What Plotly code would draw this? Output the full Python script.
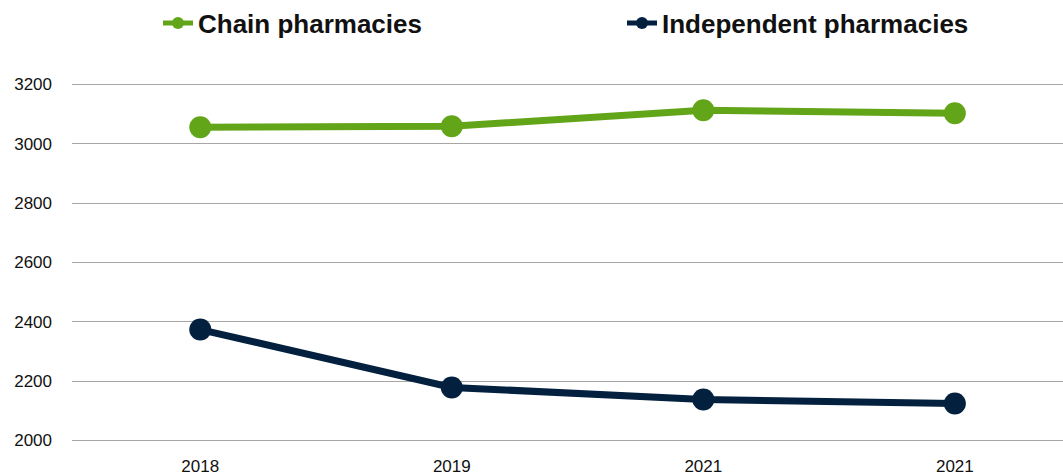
import plotly.graph_objects as go

years = ["2018", "2019", "2021", "2021"]
chain = [3056, 3059, 3113, 3103]
independent = [2374, 2179, 2138, 2125]
y_ticks = [2000, 2200, 2400, 2600, 2800, 3000, 3200]

xpos = list(range(len(years)))

GREEN = "#63a519"
NAVY = "#03203f"
FONT = "Liberation Sans, Arial, sans-serif"

fig = go.Figure()
fig.add_trace(go.Scatter(
    x=xpos, y=chain, name="Chain pharmacies", mode="lines+markers",
    line=dict(color=GREEN, width=7), marker=dict(size=22, color=GREEN),
    legend="legend",
))
fig.add_trace(go.Scatter(
    x=xpos, y=independent, name="Independent pharmacies", mode="lines+markers",
    line=dict(color=NAVY, width=7), marker=dict(size=22, color=NAVY),
    legend="legend2",
))

legend_common = dict(
    orientation="h", xref="container", yref="container",
    xanchor="left", yanchor="middle",
    font=dict(size=26, family=FONT, weight="bold", color="#111111"),
    bgcolor="rgba(0,0,0,0)", itemsizing="constant",
)

fig.update_layout(
    width=1063, height=475,
    margin=dict(l=72, r=0, t=83, b=33),
    paper_bgcolor="white", plot_bgcolor="white",
    font=dict(family=FONT, color="#111111"),
    showlegend=True,
    legend=dict(x=158 / 1063, y=1 - 23 / 475, **legend_common),
    legend2=dict(x=622 / 1063, y=1 - 23 / 475, **legend_common),
    xaxis=dict(
        range=[-0.51, 3.43],
        tickvals=xpos, ticktext=years,
        showgrid=False, zeroline=False, showline=False,
        tickfont=dict(size=17, color="#111111"), ticks="", ticklabelstandoff=12,
    ),
    yaxis=dict(
        range=[1995, 3205], tickvals=y_ticks,
        showgrid=True, gridcolor="#a6a6a6", gridwidth=1,
        zeroline=False, showline=False, ticks="",
        tickfont=dict(size=17, color="#111111"), ticklabelstandoff=19, ticklabelshift=0,
    ),
)

fig.write_html("out.html")
